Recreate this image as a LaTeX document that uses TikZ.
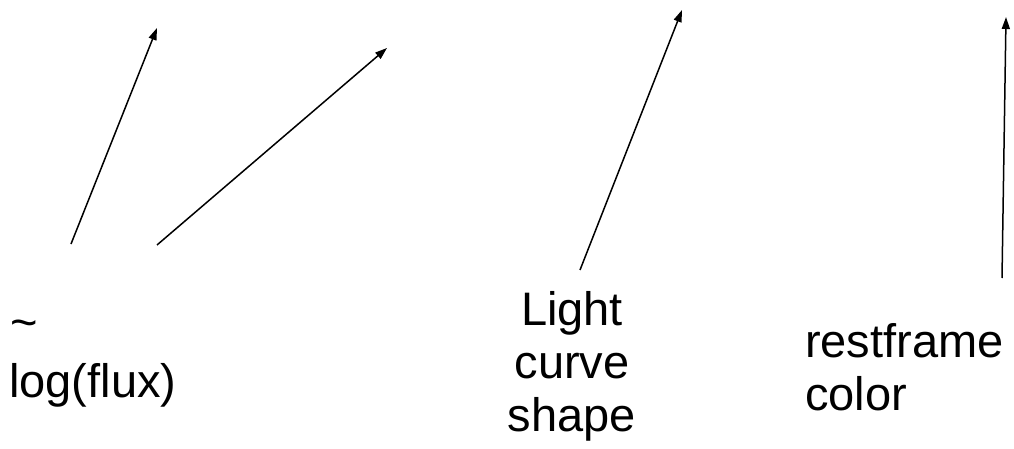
\documentclass[tikz,border=0pt]{standalone}
\usepackage{fontspec}
\setmainfont{Liberation Sans}
\usetikzlibrary{arrows.meta}
\begin{document}
\begin{tikzpicture}[x=1pt,y=-1pt,
  lbl/.style={inner sep=0pt, font=\fontsize{47}{54}\selectfont},
  arr/.style={line width=1.5pt, -{Triangle[length=12pt,width=8pt]}}]
\useasboundingbox (0,0) rectangle (1014,449);
% labels
\node[lbl, anchor=base west] (tilde) at (10,338) {\textasciitilde};
\node[lbl, anchor=base west] (flux) at (9,397) {log(flux)};
\node[lbl, anchor=base] (light) at (572,325) {Light};
\node[lbl, anchor=base] (curve) at (572,378) {curve};
\node[lbl, anchor=base] (shape) at (572,431) {shape};
\node[lbl, anchor=base west] (rest) at (805,357) {restframe};
\node[lbl, anchor=base west] (color) at (805,410) {color};
% arrow end points
\coordinate (a1s) at (71,244);  \coordinate (a1e) at (157,28);
\coordinate (a2s) at (157,245); \coordinate (a2e) at (387,48);
\coordinate (a3s) at (580,270); \coordinate (a3e) at (682,10);
\coordinate (a4s) at (1002,278); \coordinate (a4e) at (1006,17);
\draw[arr] (a1s) -- (a1e);
\draw[arr] (a2s) -- (a2e);
\draw[arr] (a3s) -- (a3e);
\draw[arr] (a4s) -- (a4e);
\end{tikzpicture}
\end{document}
